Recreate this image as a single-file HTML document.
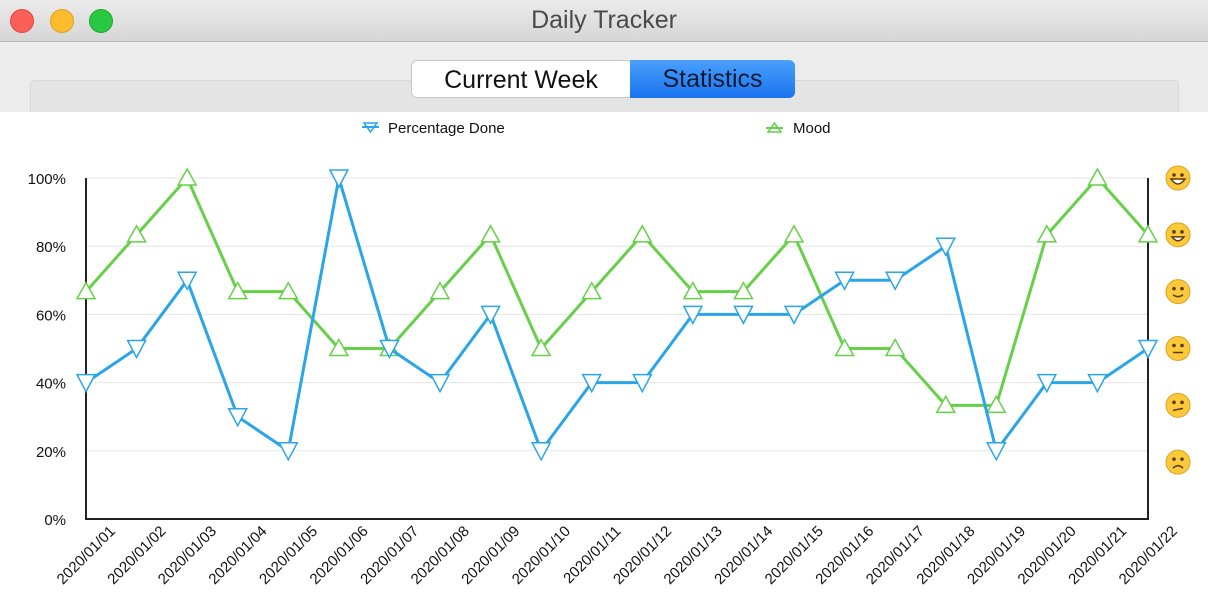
<!DOCTYPE html>
<html><head><meta charset="utf-8"><style>
body{margin:0;width:1208px;height:608px;overflow:hidden;background:#fff;font-family:"Liberation Sans",sans-serif}
#titlebar{position:absolute;left:0;top:0;width:1208px;height:41px;background:linear-gradient(#ebebeb,#d6d6d6);border-bottom:1px solid #b8b8b8}
#toolbar{position:absolute;left:0;top:42px;width:1208px;height:70px;background:#ececec}
#panel{position:absolute;left:30px;top:80px;width:1147px;height:40px;background:#e4e4e4;border:1px solid #d8d8d8;border-radius:5px}
.seg{position:absolute;top:60px;height:38px;font-size:25px;line-height:38px;text-align:center;box-sizing:border-box}
</style></head><body>
<div id="titlebar">
<div style="position:absolute;left:10px;top:9px;width:24px;height:24px;border-radius:50%;background:#fc5f57;border:1px solid #de4a42;box-sizing:border-box"></div>
<div style="position:absolute;left:50px;top:9px;width:24px;height:24px;border-radius:50%;background:#fdbc2e;border:1px solid #dea022;box-sizing:border-box"></div>
<div style="position:absolute;left:89px;top:9px;width:24px;height:24px;border-radius:50%;background:#28c840;border:1px solid #1ea932;box-sizing:border-box"></div>
<div style="position:absolute;left:0;width:1208px;top:6px;text-align:center;font-size:25px;color:#4a4a4a">Daily Tracker</div>
</div>
<div id="toolbar"></div>
<div id="panel"></div>
<div class="seg" style="left:411px;width:220px;background:#fff;border:1px solid #c8c8c8;border-radius:6px 0 0 6px;color:#111">Current Week</div>
<div class="seg" style="left:630px;width:165px;background:linear-gradient(#4aa0fb,#1a73f0);border-radius:0 6px 6px 0;color:#0a1a33">Statistics</div>
<div style="position:absolute;left:0;top:112px;width:1208px;height:496px;background:#fff"></div>
<svg id="chart" width="1208" height="608" style="position:absolute;left:0;top:0"></svg>
<script>
const dates=["2020/01/01","2020/01/02","2020/01/03","2020/01/04","2020/01/05","2020/01/06","2020/01/07","2020/01/08","2020/01/09","2020/01/10","2020/01/11","2020/01/12","2020/01/13","2020/01/14","2020/01/15","2020/01/16","2020/01/17","2020/01/18","2020/01/19","2020/01/20","2020/01/21","2020/01/22"];
const percentDone=[40,50,70,30,20,100,50,40,60,20,40,40,60,60,60,70,70,80,20,40,40,50];
const mood=[4,5,6,4,4,3,3,4,5,3,4,5,4,4,5,3,3,2,2,5,6,5];
const yTicks=[0,20,40,60,80,100];
const moodLevels=[1,2,3,4,5,6];
const svg=document.getElementById('chart');
const NS='http://www.w3.org/2000/svg';
const L=86,R=1148,T=178,B=519;
const x=i=>L+(R-L)*i/(dates.length-1);
const y=v=>B-(B-T)*v/100;
const ym=m=>B-(B-T)*m/6;
function mk(t,a,p){const e=document.createElementNS(NS,t);for(const k in a)e.setAttribute(k,a[k]);(p||svg).appendChild(e);return e;}
yTicks.forEach(v=>{
 if(v>0){const g=mk('line',{x1:L,x2:R,y1:y(v),y2:y(v),stroke:'#e6e6e6','stroke-width':1});
 
 }
 const t=mk('text',{x:66,y:y(v)+6,'text-anchor':'end','font-size':15,fill:'#111'});t.textContent=v+'%';
 
 
});
const ax=mk('path',{d:`M${L} ${T}V${B}H${R}V${T}`,fill:'none',stroke:'#222','stroke-width':2});


dates.forEach((d,i)=>{
 const t=mk('text',{x:x(i)+30,y:532,'text-anchor':'end','font-size':15,fill:'#111',transform:`rotate(-45 ${x(i)+30} 532)`});t.textContent=d;
 
 
});
// mood emoji faces on right axis
moodLevels.forEach(m=>{
 const g=mk('g',{transform:`translate(1178 ${ym(m)})`});
 
 
 mk('circle',{r:12,fill:'#fcc93b',stroke:'#e0a020','stroke-width':1},g);
 mk('circle',{cx:-4,cy:-3,r:1.8,fill:'#5a3a10'},g);mk('circle',{cx:4,cy:-3,r:1.8,fill:'#5a3a10'},g);
 const mouths={1:'M-5 6Q0 1 5 6',2:'M-5 5L5 3',3:'M-5 4H5',4:'M-5 3Q0 7 5 3',5:'M-6 2Q0 10 6 2Z',6:'M-7 1Q0 11 7 1Z'};
 mk('path',{d:mouths[m],fill:m>=5?'#fff':'none',stroke:'#5a3a10','stroke-width':1.5},g);
});
function series(vals,fy,color,down,name){
 const p=mk('polyline',{points:vals.map((v,i)=>x(i)+','+fy(v)).join(' '),fill:'none',stroke:color,'stroke-width':3});
 
 
 vals.forEach((v,i)=>{const cx=x(i),cy=fy(v);
  const d=down?`M${cx-9} ${cy-8}H${cx+9}L${cx} ${cy+9}Z`:`M${cx-9} ${cy+7}H${cx+9}L${cx} ${cy-9}Z`;
  const m=mk('path',{d:d,fill:'#fff',stroke:color,'stroke-width':1.5});
  
  });
}
series(mood,ym,'#66d048',false,'mood');
series(percentDone,y,'#2aa5e8',true,'percentage-done');
// legend
const lg1=mk('g',{});


mk('path',{d:'M364 123H377L370.5 132Z',fill:'#fff',stroke:'#2aa5e8','stroke-width':1.5},lg1);
mk('line',{x1:362,x2:379,y1:127,y2:127,stroke:'#2aa5e8','stroke-width':2},lg1);
const t1=mk('text',{x:388,y:133,'font-size':15,fill:'#111'},lg1);t1.textContent='Percentage Done';
const lg2=mk('g',{});


mk('path',{d:'M768 132H781L774.5 123Z',fill:'#fff',stroke:'#66d048','stroke-width':1.5},lg2);
mk('line',{x1:766,x2:783,y1:128,y2:128,stroke:'#66d048','stroke-width':2},lg2);
const t2=mk('text',{x:793,y:133,'font-size':15,fill:'#111'},lg2);t2.textContent='Mood';
</script>
</body></html>
